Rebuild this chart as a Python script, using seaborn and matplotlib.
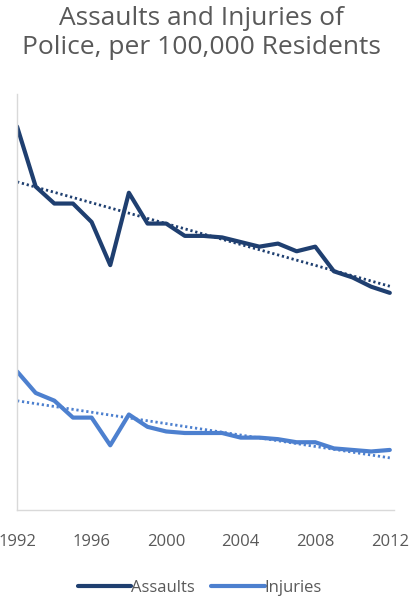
import pandas as pd
import matplotlib.pyplot as plt
import seaborn as sns

# Data (per 100,000 residents)
years = list(range(1992, 2013))
assaults = [24.9, 21.0, 19.9, 19.9, 18.7, 15.9, 20.6, 18.6, 18.6, 17.8, 17.8,
            17.7, 17.4, 17.1, 17.3, 16.8, 17.1, 15.5, 15.1, 14.5, 14.1]
injuries = [9.0, 7.6, 7.1, 6.0, 6.0, 4.2, 6.2, 5.4, 5.1, 5.0, 5.0,
            5.0, 4.7, 4.7, 4.6, 4.4, 4.4, 4.0, 3.9, 3.8, 3.9]
tick_years = [1992, 1996, 2000, 2004, 2008, 2012]

df = pd.DataFrame({"year": years, "Assaults": assaults, "Injuries": injuries})

sns.set_style("white")
plt.rcParams['font.family'] = ['Open Sans', 'DejaVu Sans']

colors = {"Assaults": "#1F3F70", "Injuries": "#4D80CF"}

fig = plt.figure(figsize=(4.16, 6), dpi=100)
ax = fig.add_axes([0.041, 0.15, 0.905, 0.693])

for name in ["Assaults", "Injuries"]:
    sns.lineplot(data=df, x="year", y=name, ax=ax, color=colors[name],
                 linewidth=3.0, label=name)
    # linear trend line
    sns.regplot(data=df, x="year", y=name, ax=ax, scatter=False, ci=None,
                color=colors[name], line_kws={"linestyle": (0, (0.8, 1.0)), "linewidth": 2.0})

handles, labels = ax.get_legend_handles_labels()
ax.get_legend().remove()

ax.set_xlim(1992, 2012.2)
ax.set_ylim(0, 27)
ax.set_xticks(tick_years)
ax.set_xticklabels([str(y) for y in tick_years], color="#595959", fontsize=12)
ax.set_yticks([])
ax.set_xlabel("")
ax.set_ylabel("")
ax.tick_params(axis="x", length=0, pad=17)

for side in ["top", "right"]:
    ax.spines[side].set_visible(False)
for side in ["left", "bottom"]:
    ax.spines[side].set_color("#D9D9D9")
    ax.spines[side].set_linewidth(1)

fig.suptitle("Assaults and Injuries of\nPolice, per 100,000 Residents",
             color="#595959", fontsize=19, x=0.485, y=1 - 6 / 600, va="top",
             linespacing=1.2)

fig.legend(handles[:2], labels[:2], loc="center", bbox_to_anchor=(0.48, 1 - 588 / 600),
           ncol=2, frameon=False, fontsize=12, handlelength=3.2, handletextpad=0.0,
           columnspacing=1.0, labelcolor="#595959")

fig.savefig("out.png", dpi=100)
